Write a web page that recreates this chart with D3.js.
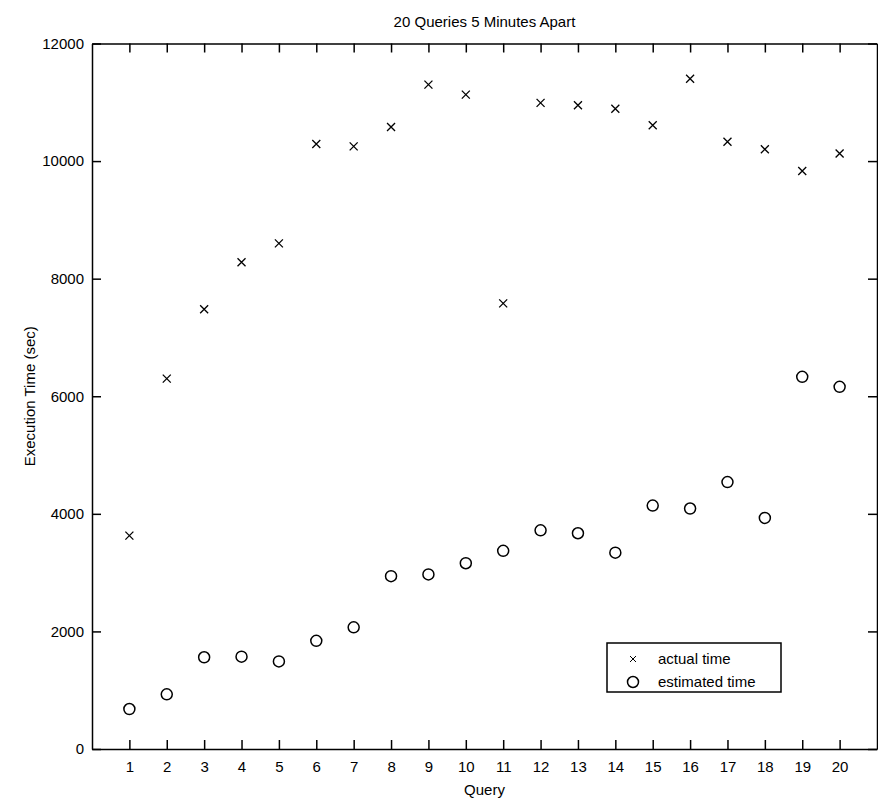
<!DOCTYPE html>
<html>
<head>
<meta charset="utf-8">
<script src="https://cdn.jsdelivr.net/npm/d3@7"></script>
<style>
  body { margin: 0; background: #fff; }
  text { font-family: "Liberation Sans", Arial, sans-serif; fill: #000; }
</style>
</head>
<body>
<div class="graph-pane"></div>
<script>
// query numbers 1..20
var queries = [1,2,3,4,5,6,7,8,9,10,11,12,13,14,15,16,17,18,19,20];
// actual execution time (sec)
var actualTime = [3630, 6300, 7480, 8280, 8600, 10290, 10250, 10580, 11300, 11130,
                  7580, 10990, 10950, 10890, 10610, 11400, 10330, 10200, 9830, 10130];
// estimated execution time (sec)
var estimatedTime = [680, 930, 1560, 1570, 1490, 1840, 2070, 2940, 2970, 3160,
                     3370, 3720, 3670, 3340, 4140, 4090, 4540, 3930, 6330, 6160];
var yTicks = [0, 2000, 4000, 6000, 8000, 10000, 12000];
var legendLabels = ["actual time", "estimated time"];

var width = 878, height = 801;
// plot box edges (don't call these top/left - window.top is read only)
var plotLeft = 92, plotRight = 877, plotTop = 43.5, plotBottom = 749;

var svg = d3.select('.graph-pane')
  .append('svg')
  .attr('width', width)
  .attr('height', height);

var xScale = d3.scaleLinear().domain([0, 21]).range([plotLeft, plotRight]);
var yScale = d3.scaleLinear().domain([0, 12000]).range([plotBottom, plotTop]);

//axes - MATLAB style, ticks pointing in
var fs = 15;
svg.append('g')
  .attr('transform', 'translate(0,' + plotBottom + ')')
  .call(d3.axisBottom(xScale).tickValues(queries).tickSizeInner(-9).tickSizeOuter(0).tickPadding(12))
  .call(g => g.selectAll('text').style('font-size', fs + 'px').style('font-family', '"Liberation Sans", Arial, sans-serif'));

svg.append('g')
  .attr('transform', 'translate(' + plotLeft + ',0)')
  .call(d3.axisLeft(yScale).tickValues(yTicks).tickFormat(d3.format('d')).tickSizeInner(-9).tickSizeOuter(0).tickPadding(8))
  .call(g => g.selectAll('text').style('font-size', fs + 'px').style('font-family', '"Liberation Sans", Arial, sans-serif'));

svg.append('g')
  .attr('transform', 'translate(0,' + plotTop + ')')
  .call(d3.axisTop(xScale).tickValues(queries).tickSizeInner(-9).tickSizeOuter(0).tickFormat(''));

svg.append('g')
  .attr('transform', 'translate(' + plotRight + ',0)')
  .call(d3.axisRight(yScale).tickValues(yTicks).tickSizeInner(-9).tickSizeOuter(0).tickFormat(''));

svg.selectAll('.domain, .tick line').attr('stroke', '#000').attr('stroke-width', 1.5);

// actual time: x markers
var xSize = 4;
svg.append('g')
  .selectAll('path')
  .data(queries)
  .join('path')
  .attr('d', (q, i) => {
    var cx = xScale(q), cy = yScale(actualTime[i]);
    return 'M' + (cx - xSize) + ',' + (cy - xSize) + 'L' + (cx + xSize) + ',' + (cy + xSize) +
           'M' + (cx - xSize) + ',' + (cy + xSize) + 'L' + (cx + xSize) + ',' + (cy - xSize);
  })
  .attr('stroke', '#000')
  .attr('stroke-width', 1.3)
  .attr('fill', 'none');

// estimated time: circles
svg.append('g')
  .selectAll('circle')
  .data(queries)
  .join('circle')
  .attr('cx', q => xScale(q))
  .attr('cy', (q, i) => yScale(estimatedTime[i]))
  .attr('r', 5.5)
  .attr('stroke', '#000')
  .attr('stroke-width', 1.5)
  .attr('fill', 'none');

// title and axis labels
svg.append('text')
  .attr('x', (plotLeft + plotRight) / 2)
  .attr('y', 27)
  .attr('text-anchor', 'middle')
  .style('font-size', fs + 'px')
  .text('20 Queries 5 Minutes Apart');

svg.append('text')
  .attr('x', (plotLeft + plotRight) / 2)
  .attr('y', 795)
  .attr('text-anchor', 'middle')
  .style('font-size', fs + 'px')
  .text('Query');

svg.append('text')
  .attr('transform', 'translate(35,' + ((plotTop + plotBottom) / 2) + ') rotate(-90)')
  .attr('text-anchor', 'middle')
  .style('font-size', fs + 'px')
  .text('Execution Time (sec)');

// legend
var legend = svg.append('g').attr('transform', 'translate(607,643)');
legend.append('rect')
  .attr('width', 174)
  .attr('height', 49)
  .attr('fill', '#fff')
  .attr('stroke', '#000')
  .attr('stroke-width', 1.5);

legend.append('path')
  .attr('d', 'M23,13L29,19M23,19L29,13')
  .attr('stroke', '#000')
  .attr('stroke-width', 1);
legend.append('circle')
  .attr('cx', 26)
  .attr('cy', 39)
  .attr('r', 5.5)
  .attr('stroke', '#000')
  .attr('stroke-width', 1.5)
  .attr('fill', 'none');

legend.selectAll('.legend-label')
  .data(legendLabels)
  .join('text')
  .attr('class', 'legend-label')
  .attr('x', 51)
  .attr('y', (d, i) => 21 + i * 23)
  .style('font-size', fs + 'px')
  .text(d => d);
</script>
</body>
</html>
